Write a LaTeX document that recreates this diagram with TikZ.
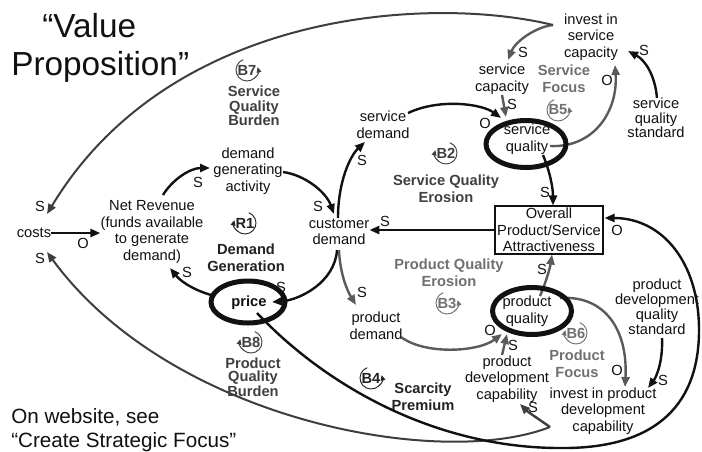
\documentclass[tikz,border=0pt]{standalone}
\usepackage{fontspec}
\setmainfont{Liberation Sans}
\usetikzlibrary{arrows.meta,shapes.geometric}
\definecolor{ink}{HTML}{111111}
\definecolor{gry}{HTML}{5A5A5A}
\definecolor{dgry}{HTML}{3E3E3E}
\definecolor{lgry}{HTML}{707070}
\definecolor{dk}{HTML}{404040}
\definecolor{blk}{HTML}{222222}

\begin{document}
\begin{tikzpicture}[x=0.75pt,y=-0.75pt,
  txt/.style={font=\fontsize{11}{12.4}\selectfont, align=center, inner sep=0pt, text=ink},
  lbl/.style={font=\fontsize{11}{12}\selectfont, inner sep=0pt, text=ink},
  loopname/.style={font=\bfseries\fontsize{11}{12.4}\selectfont, align=center, inner sep=0pt, text=blk},
  looptag/.style={font=\bfseries\fontsize{11}{12}\selectfont, inner sep=0pt, text=blk},
  ring/.style={ellipse, draw=ink, line width=3.75pt, inner sep=0pt},
  link/.style={line width=1.8pt, draw=ink, -{Triangle[length=7.5pt,width=6pt]}},
  glink/.style={link, draw=gry},
  dlink/.style={link, draw=dgry},
  clink/.style={line width=1.5pt, draw=dgry, -{Triangle[length=7.5pt,width=6pt]}},
  mk/.style={line width=0.7pt, -{Triangle[length=4pt,width=3.6pt]}},
  big/.style={anchor=base west, inner sep=0pt, text=ink}
]
\fill[white] (0,0) rectangle (702,451);
\useasboundingbox (0,0) rectangle (702,451);

% ---- variables ----
\node[txt] (costs) at (34,233) {costs};
\node[txt] (netrev) at (152,232) {Net Revenue\\(funds available\\to generate\\demand)};
\node[txt] (dga) at (248,171) {demand\\generating\\activity};
\node[txt] (cd) at (339,232) {customer\\demand};
\node[txt, font=\bfseries\fontsize{11}{12.4}\selectfont] (price) at (249,303) {price};
\node[txt] (sd) at (383,125) {service\\demand};
\node[txt] (sc) at (502,79) {service\\capacity};
\node[txt] (isc) at (591,37) {invest in\\service\\capacity};
\node[txt] (sq) at (527,139) {service\\quality};
\node[txt, font=\fontsize{11}{10.9}\selectfont] (sqs) at (656,118) {service\\quality\\standard};
\node[txt, draw=ink, line width=0.8pt, minimum width=81pt, minimum height=36pt] (oa) at (549,230) {Overall\\Product/Service\\Attractiveness};
\node[txt] (pd) at (376,326) {product\\demand};
\node[txt] (pq) at (527,311) {product\\quality};
\node[txt] (pdc) at (507,379) {product\\development\\capability};
\node[txt] (ipd) at (603,411) {invest in product\\development\\capability};
\node[txt, font=\fontsize{11}{10.1}\selectfont] (pdqs) at (657,307) {product\\development\\quality\\standard};

% junctions where an investment splits into two links
\coordinate (isch) at (553,25);
\coordinate (ipdh) at (550,427);

% ---- loop names ----
\node[loopname, font=\bfseries\fontsize{11}{12.75}\selectfont] (dgen) at (246,258) {Demand\\Generation};
\node[loopname, text=dk, font=\bfseries\fontsize{11}{10.9}\selectfont] (sqb) at (254,106) {Service\\Quality\\Burden};
\node[loopname, text=dk] (sqe) at (446,189) {Service Quality\\Erosion};
\node[loopname, text=lgry, font=\bfseries\fontsize{11}{12.75}\selectfont] (sfoc) at (564,79) {Service\\Focus};
\node[loopname, text=lgry] (pqe) at (449,273) {Product Quality\\Erosion};
\node[loopname, text=lgry, font=\bfseries\fontsize{11}{12.75}\selectfont] (pfoc) at (577,364) {Product\\Focus};
\node[loopname, font=\bfseries\fontsize{11}{12.75}\selectfont] (scp) at (423,397) {Scarcity\\Premium};
\node[loopname, text=dk, font=\bfseries\fontsize{11}{10.1}\selectfont] (pqb) at (253,377) {Product\\Quality\\Burden};

% ---- loop markers ----
\node[looptag] (r1) at (245,223) {R1};
\node[looptag, text=dk] (b7) at (247,70) {B7};
\node[looptag, text=dk] (b2) at (446,153) {B2};
\node[looptag, text=lgry] (b5) at (558,110) {B5};
\node[looptag, text=lgry] (b3) at (447,303) {B3};
\node[looptag, text=lgry] (b6) at (576,333) {B6};
\node[looptag] (b4) at (371,378) {B4};
\node[looptag, text=dk] (b8) at (251,342) {B8};
\draw[mk, draw=blk] ([shift={(70:8.25pt)}]r1.center) arc[start angle=70, end angle=-195, radius=8.25pt];
\draw[mk, draw=dk] ([shift={(110:8.25pt)}]b7.center) arc[start angle=110, end angle=375, radius=8.25pt];
\draw[mk, draw=dk] ([shift={(70:8.25pt)}]b2.center) arc[start angle=70, end angle=-195, radius=8.25pt];
\draw[mk, draw=lgry] ([shift={(110:8.25pt)}]b5.center) arc[start angle=110, end angle=375, radius=8.25pt];
\draw[mk, draw=lgry] ([shift={(110:8.25pt)}]b3.center) arc[start angle=110, end angle=375, radius=8.25pt];
\draw[mk, draw=lgry] ([shift={(70:8.25pt)}]b6.center) arc[start angle=70, end angle=-195, radius=8.25pt];
\draw[mk, draw=blk] ([shift={(110:8.25pt)}]b4.center) arc[start angle=110, end angle=375, radius=8.25pt];
\draw[mk, draw=dk] ([shift={(70:8.25pt)}]b8.center) arc[start angle=70, end angle=-195, radius=8.25pt];

% ---- links ----
\draw[link] (costs.east) -- (costs.east -| netrev.west);
\draw[link] ([shift={(11,-37)}]netrev.center) .. controls (172,180) and (190,168) .. ([shift={(-38,-3)}]dga.center);
\draw[link] ([shift={(35,1)}]dga.center) .. controls (305,175) and (326,192) .. ([shift={(-5,-18)}]cd.center);
\draw[link] ([shift={(-2,18)}]cd.center) .. controls (335,282) and (300,300) .. ([shift={(23,-1)}]price.center);
\draw[link] ([shift={(-34,-7)}]price.center) .. controls (198,292) and (182,283) .. ([shift={(18,36)}]netrev.center);
\draw[link] ([shift={(-1,-14)}]cd.center) .. controls (338,182) and (350,156) .. ([shift={(-18,17)}]sd.center);
\draw[glink] ([shift={(0,18)}]cd.center) .. controls (340,275) and (348,292) .. ([shift={(-20,-21)}]pd.center);
\draw[link] (oa.west) -- (oa.west -| cd.east);
\draw[link] ([shift={(25,-12)}]sd.center) .. controls (440,98) and (482,104) .. ([shift={(-26,-21)}]sq.center);
\draw[glink] (isch) .. controls (535,27) and (515,42) .. ([shift={(6,-19)}]sc.center);
\draw[glink] ([shift={(0,16)}]sc.center) -- ([shift={(-21,-22)}]sq.center);
\draw[glink] ([shift={(23,7)}]sq.center) .. controls (595,148) and (618,110) .. ([shift={(24,28)}]isc.center);
\draw[link] ([shift={(1,-20)}]sqs.center) .. controls (655,75) and (645,60) .. ([shift={(37,14)}]isc.center);
\draw[link] ([shift={(16,16)}]sq.center) .. controls (550,172) and (553,188) .. ([shift={(4,0)}]oa.north);
\draw[glink] ([shift={(13,-15)}]pq.center) .. controls (546,282) and (550,268) .. ([shift={(3,0)}]oa.south);
\draw[glink] ([shift={(25,11)}]pd.center) .. controls (425,355) and (478,352) .. ([shift={(-25,23)}]pq.center);
\draw[glink] ([shift={(-5,-24)}]pdc.center) -- ([shift={(-20,23)}]pq.center);
\draw[glink] ([shift={(33,-13)}]pq.center) .. controls (605,295) and (628,330) .. ([shift={(22,-24)}]ipd.center);
\draw[link] ([shift={(5,31)}]pdqs.center) .. controls (663,360) and (657,376) .. ([shift={(45,-23)}]ipd.center);
\draw[dlink] (ipdh) .. controls (540,420) and (528,412) .. ([shift={(13,25)}]pdc.center);
\draw[clink] (ipdh) .. controls (440,470) and (170,420) .. ([shift={(13,19)}]costs.center);
\draw[clink] (isch) .. controls (430,-5) and (170,10) .. ([shift={(13,-19)}]costs.center);
\draw[link] ([shift={(8,10)}]price.center) .. controls (330,390) and (440,448) .. (560,448)
  .. controls (650,449) and (699,410) .. (699,330)
  .. controls (699,262) and (662,218) .. ([shift={(1,-12)}]oa.east);

% ---- polarities ----
\node[lbl] (p1) at (83,243) {O};
\node[lbl] (p2) at (198,182) {S};
\node[lbl] (p3) at (318,206) {S};
\node[lbl] (p4) at (281,287) {S};
\node[lbl] (p5) at (187,272) {S};
\node[lbl] (p6) at (362,160) {S};
\node[lbl] (p7) at (362,292) {S};
\node[lbl] (p8) at (385,221) {S};
\node[lbl] (p9) at (485,123) {O};
\node[lbl] (p10) at (523,52) {S};
\node[lbl] (p11) at (512,104) {S};
\node[lbl] (p12) at (607,80) {O};
\node[lbl] (p13) at (644,50) {S};
\node[lbl] (p14) at (545,192) {S};
\node[lbl] (p15) at (542,269) {S};
\node[lbl] (p16) at (490,330) {O};
\node[lbl] (p17) at (513,345) {S};
\node[lbl] (p18) at (617,370) {O};
\node[lbl] (p19) at (663,380) {S};
\node[lbl] (p20) at (533,407) {S};
\node[lbl] (p21) at (40,258) {S};
\node[lbl] (p22) at (40,206) {S};
\node[lbl] (p23) at (617,230) {O};

% ---- highlighted variables ----
\node[ring, minimum width=60pt, minimum height=35.25pt] (sqring) at (526,144) {};
\node[ring, minimum width=59.25pt, minimum height=35.25pt] (pqring) at (532,311) {};
\node[ring, minimum width=55.5pt, minimum height=31.5pt] (pricering) at (248,302) {};

% ---- titles ----
\node[big, font=\fontsize{25}{28}\selectfont] (vp1) at (42,37) {“Value};
\node[big, font=\fontsize{25}{28}\selectfont] (vp2) at (11,75) {Proposition”};
\node[big, font=\fontsize{15.5}{18}\selectfont] (web1) at (11,423) {On website, see};
\node[big, font=\fontsize{15.5}{18}\selectfont] (web2) at (11,447) {“Create Strategic Focus”};
\end{tikzpicture}
\end{document}
